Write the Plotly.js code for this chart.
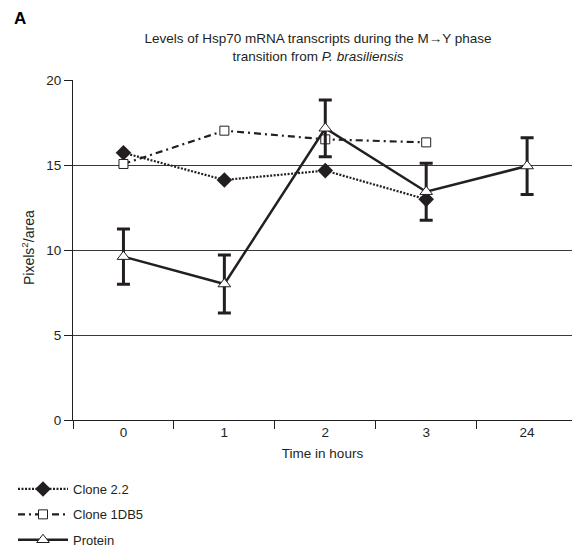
<!DOCTYPE html>
<html>
<head>
<meta charset="utf-8">
<script src="https://cdn.plot.ly/plotly-3.0.1.min.js"></script>
<style>html,body{margin:0;padding:0;background:#fff;}#chart{width:572px;height:548px;}</style>
</head>
<body>
<div id="chart"></div>
<script>
const categories = ["0", "1", "2", "3", "24"];
const clone22 = [15.72, 14.12, 14.67, 12.98, null];
const clone1DB5 = [15.06, 17.02, 16.51, 16.33, null];
const protein = [9.61, 8.0, 17.16, 13.43, 14.94];
const proteinErr = [1.63, 1.7, 1.67, 1.68, 1.67];
const yTicks = [0, 5, 10, 15, 20];

const ink = '#231f20';
const F = 'Liberation Sans, Arial, Helvetica, sans-serif';

const traces = [
  {
    x: categories, y: clone22, name: 'Clone 2.2', type: 'scatter', mode: 'lines+markers',
    legendgroup: 'a',
    line: {color: ink, width: 2.2, dash: '2px,1.5px'},
    marker: {symbol: 'diamond', size: 12, color: ink, line: {color: ink, width: 0}}
  },
  {
    x: categories, y: clone1DB5, name: 'Clone 1DB5', type: 'scatter', mode: 'lines+markers',
    legendgroup: 'b',
    line: {color: ink, width: 2.2, dash: '7px,4px,2px,4px'},
    marker: {symbol: 'square', size: 9, color: '#fff', line: {color: ink, width: 1}}
  },
  {
    x: categories, y: protein, name: 'Protein', type: 'scatter', mode: 'lines+markers',
    legendgroup: 'c',
    line: {color: ink, width: 2.5},
    marker: {symbol: 'triangle-up', size: 11, color: '#fff', line: {color: ink, width: 1}},
    error_y: {type: 'data', array: proteinErr, visible: true, color: ink, thickness: 3, width: 6.5}
  }
];

const layout = {
  width: 572, height: 548,
  margin: {l: 73, r: 0, t: 80, b: 128, autoexpand: false},
  paper_bgcolor: '#fff', plot_bgcolor: '#fff',
  font: {family: F, size: 13, color: ink},
  showlegend: true,
  title: {
    text: 'Levels of Hsp70 mRNA transcripts during the M→Y phase<br>transition from <i>P. brasiliensis</i>',
    font: {family: F, size: 13.5, color: ink},
    xref: 'container', x: 318 / 572, xanchor: 'center',
    yref: 'container', y: 1 - 43 / 548, yanchor: 'middle'
  },
  xaxis: {
    type: 'category', range: [-0.5, 4.445], automargin: false,
    tickson: 'boundaries', ticks: 'outside', ticklen: 8, tickcolor: ink, tickwidth: 1,
    showgrid: false, zeroline: false, showline: true, linecolor: ink, linewidth: 1.2,
    tickfont: {family: F, size: 13.5, color: ink},
    title: {text: 'Time in hours', font: {family: F, size: 13.5, color: ink}, standoff: 9}
  },
  yaxis: {
    range: [0, 20], tickvals: yTicks, ticktext: yTicks.map(String), automargin: false,
    ticks: 'outside', ticklen: 8, tickcolor: ink, tickwidth: 1,
    showgrid: true, gridcolor: '#3a3a3a', gridwidth: 1.1,
    zeroline: false, showline: true, linecolor: ink, linewidth: 1.2,
    tickfont: {family: F, size: 13.5, color: ink}
  },
  legend: {
    xref: 'container', yref: 'container',
    x: 13 / 572, y: 1 - 474 / 548, xanchor: 'left', yanchor: 'top',
    traceorder: 'grouped', tracegroupgap: 5.5, itemwidth: 50,
    font: {family: F, size: 13, color: ink}, bgcolor: 'rgba(0,0,0,0)'
  },
  annotations: [
    {text: '<b>A</b>', xref: 'paper', yref: 'paper',
     x: (12 - 73) / 499, y: (420 - 19) / 340,
     xanchor: 'left', yanchor: 'middle', showarrow: false,
     font: {family: F, size: 17, color: '#000'}},
    {text: 'Pixels<sup>2</sup>/area', xref: 'paper', yref: 'paper',
     x: (28 - 73) / 499, y: (420 - 248) / 340, textangle: -90,
     xanchor: 'center', yanchor: 'middle', showarrow: false,
     font: {family: F, size: 14, color: ink}}
  ]
};

Plotly.newPlot('chart', traces, layout, {displayModeBar: false, responsive: false});
</script>
</body>
</html>
